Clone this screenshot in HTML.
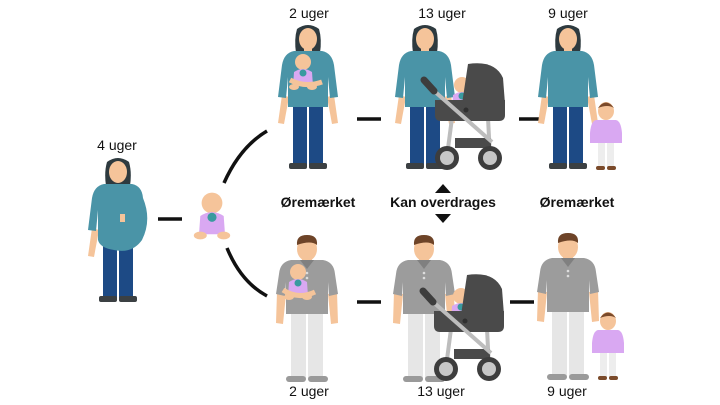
<!DOCTYPE html>
<html><head><meta charset="utf-8"><style>
html,body{margin:0;padding:0;background:#fff;width:720px;height:405px;overflow:hidden}
svg{display:block}
text{font-family:"Liberation Sans",sans-serif;fill:#111}
</style></head><body>
<svg width="720" height="405" viewBox="0 0 720 405">
<defs>
<g id="woman">
  <rect x="-15" y="80" width="14" height="60" fill="#1d4a85"/>
  <rect x="1" y="80" width="14" height="60" fill="#1d4a85"/>
  <rect x="-19" y="138" width="18" height="6" rx="2" fill="#3b4043"/>
  <rect x="1" y="138" width="18" height="6" rx="2" fill="#3b4043"/>
  <path d="M-11,4 Q0,-4 11,4 Q14,14 12,28 L-12,28 Q-14,14 -11,4Z" fill="#2e3a3f"/>
  <ellipse cx="0" cy="14" rx="9" ry="11" fill="#f5c49a"/>
  <rect x="-4" y="22" width="8" height="6" fill="#f5c49a"/>
  <path d="M-26,70 L-30,98 L-24,99 L-19,72Z" fill="#f5c49a"/>
  <path d="M26,70 L30,98 L24,99 L19,72Z" fill="#f5c49a"/>
  <path d="M-14,26 L14,26 Q24,28 26,40 L30,72 L22,73 L20,52 L20,82 L-20,82 L-20,52 L-22,73 L-30,72 L-26,40 Q-24,28 -14,26Z" fill="#4a94a7"/>
</g>
<g id="man">
  <rect x="-16" y="77" width="15" height="65" fill="#e6e6e6"/>
  <rect x="1" y="77" width="15" height="65" fill="#e6e6e6"/>
  <rect x="-21" y="140" width="20" height="6" rx="3" fill="#9a9a9a"/>
  <rect x="1" y="140" width="20" height="6" rx="3" fill="#9a9a9a"/>
  <ellipse cx="0" cy="13" rx="10" ry="12" fill="#f5c49a"/>
  <path d="M-10,9 Q-11,-1 0,-1 Q11,-1 10,9 Q4,4 -10,9Z" fill="#6e4428"/>
  <rect x="-5" y="20" width="10" height="6" fill="#f5c49a"/>
  <path d="M-30,56 L-31,87 L-24,88 L-21,58Z" fill="#f5c49a"/>
  <path d="M30,56 L31,87 L24,88 L21,58Z" fill="#f5c49a"/>
  <path d="M-16,24 L16,24 Q27,26 28,38 L31,58 L22,60 L21,46 L21,78 L-21,78 L-21,46 L-22,60 L-31,58 L-28,38 Q-27,26 -16,24Z" fill="#9c9c9c"/>
  <path d="M-7,24 L0,33 L7,24Z" fill="#808080"/>
  <circle cx="0" cy="37" r="1.3" fill="#ddd"/><circle cx="0" cy="42" r="1.3" fill="#ddd"/>
</g>
<g id="baby">
  <circle cx="0" cy="0" r="8" fill="#f5c49a"/>
  <path d="M-9,10 Q0,4 9,10 L10,24 L-10,24Z" fill="#d9a8f2"/>
  <circle cx="0" cy="11" r="3.5" fill="#3a9a9f"/>
  <ellipse cx="-9" cy="25" rx="5" ry="3" fill="#f5c49a"/>
  <ellipse cx="9" cy="25" rx="5" ry="3" fill="#f5c49a"/>
</g>
<g id="toddler">
  <rect x="-8" y="38" width="7" height="26" fill="#ededed"/>
  <rect x="1" y="38" width="7" height="26" fill="#ededed"/>
  <rect x="-10" y="63" width="9" height="4" rx="2" fill="#7a4a2a"/>
  <rect x="1" y="63" width="9" height="4" rx="2" fill="#7a4a2a"/>
  <ellipse cx="0" cy="8" rx="8" ry="9" fill="#f5c49a"/>
  <path d="M-8,5 Q0,-6 8,5 Q2,1 -8,5Z" fill="#7a4a2a"/>
  <path d="M-10,17 L10,17 Q15,18 16,30 L16,40 L11,40 L11,40 L-11,40 L-16,40 L-16,30 Q-15,18 -10,17Z" fill="#d9a8f2"/>
</g>
<g id="pram">
  <line x1="452" y1="118" x2="447" y2="156" stroke="#bdbdbd" stroke-width="4"/>
  <line x1="488" y1="118" x2="490" y2="156" stroke="#bdbdbd" stroke-width="4"/>
  <path d="M468,64 Q495,60 503,78 L505,104 L462,104 Z" fill="#4a4a4a"/>
  <path d="M435,100 L505,100 L505,115 Q505,121 499,121 L441,121 Q435,121 435,115Z" fill="#4a4a4a"/>
  <rect x="455" y="138" width="36" height="10" fill="#4a4a4a"/>
  <line x1="433" y1="90" x2="492" y2="142" stroke="#bdbdbd" stroke-width="4"/>
  <line x1="424" y1="80" x2="434" y2="91" stroke="#3d3d3d" stroke-width="7" stroke-linecap="round"/>
  <circle cx="466" cy="110" r="2.5" fill="#2f2f2f"/>
  <circle cx="447" cy="158" r="12" fill="#3d3d3d"/><circle cx="447" cy="158" r="7" fill="#c7c7c7"/>
  <circle cx="490" cy="158" r="12" fill="#3d3d3d"/><circle cx="490" cy="158" r="7" fill="#c7c7c7"/>
</g>
</defs>

<g font-size="14" text-anchor="middle">
<text x="309" y="18">2 uger</text>
<text x="442" y="18">13 uger</text>
<text x="568" y="18">9 uger</text>
<text x="117" y="150">4 uger</text>
<text x="309" y="396">2 uger</text>
<text x="441" y="396">13 uger</text>
<text x="567" y="396">9 uger</text>
<text x="318" y="207" font-weight="bold">Øremærket</text>
<text x="443" y="207" font-weight="bold">Kan overdrages</text>
<text x="577" y="207" font-weight="bold">Øremærket</text>
</g>
<polygon points="443,184 451,193 435,193" fill="#111"/>
<polygon points="435,214 451,214 443,223" fill="#111"/>

<g stroke="#111" stroke-width="3.5" fill="none">
<line x1="158" y1="219" x2="182" y2="219"/>
<line x1="357" y1="119" x2="381" y2="119"/>
<line x1="519" y1="119" x2="543" y2="119"/>
<line x1="357" y1="302" x2="381" y2="302"/>
<line x1="510" y1="302" x2="534" y2="302"/>
<path d="M224,183 Q240,147 267,131"/>
<path d="M227,248 Q241,282 267,296"/>
</g>

<g transform="translate(118,158)">
  <rect x="-15" y="78" width="14" height="62" fill="#1d4a85"/>
  <rect x="1" y="78" width="14" height="62" fill="#1d4a85"/>
  <rect x="-19" y="138" width="18" height="6" rx="2" fill="#3b4043"/>
  <rect x="1" y="138" width="18" height="6" rx="2" fill="#3b4043"/>
  <path d="M-11,4 Q0,-4 11,4 Q14,14 12,28 L-12,28 Q-14,14 -11,4Z" fill="#2e3a3f"/>
  <ellipse cx="0" cy="14" rx="9" ry="11" fill="#f5c49a"/>
  <path d="M-26,70 L-30,98 L-24,99 L-19,72Z" fill="#f5c49a"/>
  <path d="M-14,26 L14,26 Q24,28 25,40 Q34,62 24,82 Q14,96 -4,92 Q-18,90 -20,82 L-20,52 L-22,73 L-30,72 L-26,40 Q-24,28 -14,26Z" fill="#4a94a7"/>
  <rect x="2" y="56" width="5" height="8" fill="#f5c49a"/>
</g>
<g transform="translate(212,203) scale(1.3)"><use href="#baby"/></g>

<use href="#woman" x="308" y="25"/>
<use href="#baby" x="303" y="62"/>
<path d="M290,80 Q305,88 322,82" stroke="#f5c49a" stroke-width="5" fill="none"/>
<use href="#woman" x="425" y="25"/>
<use href="#baby" x="462" y="85"/>
<use href="#pram"/>
<use href="#woman" x="568" y="25"/>
<use href="#toddler" x="606" y="103"/>

<use href="#man" x="307" y="236"/>
<use href="#baby" x="298" y="272"/>
<path d="M283,290 Q298,300 315,292" stroke="#f5c49a" stroke-width="5" fill="none"/>
<use href="#man" x="424" y="236"/>
<use href="#baby" x="461" y="296"/>
<use href="#pram" x="-1" y="211"/>
<use href="#man" x="568" y="234"/>
<use href="#toddler" x="608" y="313"/>
</svg>
</body></html>
